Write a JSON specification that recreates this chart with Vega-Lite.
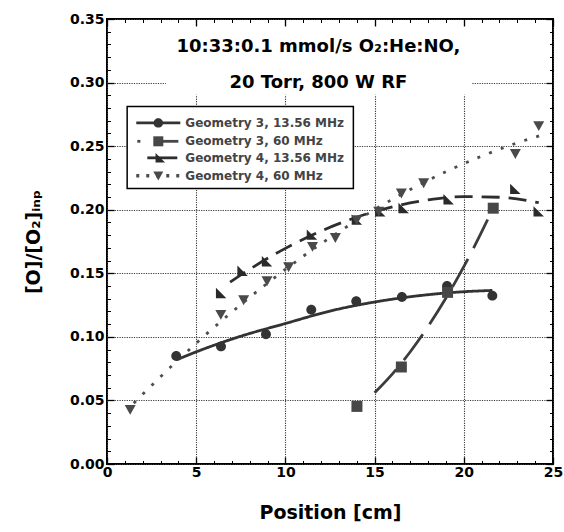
{
  "$schema": "https://vega.github.io/schema/vega-lite/v6.json",
  "width": 446,
  "height": 445,
  "autosize": {"type": "none"},
  "padding": {"left": 107, "top": 19, "right": 11, "bottom": 68},
  "background": "white",
  "config": {
    "view": {"stroke": "black", "strokeWidth": 2},
    "font": "DejaVu Sans",
    "axis": {
      "labelFont": "DejaVu Sans", "labelFontWeight": "bold", "labelFontSize": 14, "labelColor": "black",
      "titleFont": "DejaVu Sans", "titleFontWeight": "bold", "titleFontSize": 19, "titleColor": "black",
      "domain": false, "tickColor": "black", "tickWidth": 1.3,
      "gridColor": "#3a3a3a", "gridDash": [1.2, 1.2], "gridWidth": 1.1
    },
    "text": {"font": "DejaVu Sans", "fontWeight": "bold", "fontSize": 12, "color": "#444444", "align": "left", "baseline": "middle"}
  },
  "datasets": {
    "pts": [
      {"series": "Geometry 3, 13.56 MHz", "position": 3.88, "ratio": 0.085},
      {"series": "Geometry 3, 13.56 MHz", "position": 6.39, "ratio": 0.0925},
      {"series": "Geometry 3, 13.56 MHz", "position": 8.91, "ratio": 0.102},
      {"series": "Geometry 3, 13.56 MHz", "position": 11.45, "ratio": 0.1214},
      {"series": "Geometry 3, 13.56 MHz", "position": 13.97, "ratio": 0.128},
      {"series": "Geometry 3, 13.56 MHz", "position": 16.53, "ratio": 0.1314},
      {"series": "Geometry 3, 13.56 MHz", "position": 19.06, "ratio": 0.140},
      {"series": "Geometry 3, 13.56 MHz", "position": 21.6, "ratio": 0.1324},
      {"series": "Geometry 3, 60 MHz", "position": 14.01, "ratio": 0.0453},
      {"series": "Geometry 3, 60 MHz", "position": 16.5, "ratio": 0.0763},
      {"series": "Geometry 3, 60 MHz", "position": 19.09, "ratio": 0.135},
      {"series": "Geometry 3, 60 MHz", "position": 21.65, "ratio": 0.2012},
      {"series": "Geometry 4, 13.56 MHz", "position": 6.4, "ratio": 0.1345},
      {"series": "Geometry 4, 13.56 MHz", "position": 7.6, "ratio": 0.152},
      {"series": "Geometry 4, 13.56 MHz", "position": 8.97, "ratio": 0.1594},
      {"series": "Geometry 4, 13.56 MHz", "position": 11.49, "ratio": 0.1804},
      {"series": "Geometry 4, 13.56 MHz", "position": 14.01, "ratio": 0.1922},
      {"series": "Geometry 4, 13.56 MHz", "position": 15.32, "ratio": 0.1987},
      {"series": "Geometry 4, 13.56 MHz", "position": 16.63, "ratio": 0.2014},
      {"series": "Geometry 4, 13.56 MHz", "position": 19.15, "ratio": 0.2083},
      {"series": "Geometry 4, 13.56 MHz", "position": 22.89, "ratio": 0.2164},
      {"series": "Geometry 4, 13.56 MHz", "position": 24.2, "ratio": 0.1987},
      {"series": "Geometry 4, 60 MHz", "position": 1.3, "ratio": 0.0428},
      {"series": "Geometry 4, 60 MHz", "position": 6.38, "ratio": 0.1175},
      {"series": "Geometry 4, 60 MHz", "position": 7.66, "ratio": 0.129},
      {"series": "Geometry 4, 60 MHz", "position": 8.97, "ratio": 0.144},
      {"series": "Geometry 4, 60 MHz", "position": 10.18, "ratio": 0.155},
      {"series": "Geometry 4, 60 MHz", "position": 11.52, "ratio": 0.171},
      {"series": "Geometry 4, 60 MHz", "position": 12.8, "ratio": 0.178},
      {"series": "Geometry 4, 60 MHz", "position": 14.0, "ratio": 0.192},
      {"series": "Geometry 4, 60 MHz", "position": 15.23, "ratio": 0.1987},
      {"series": "Geometry 4, 60 MHz", "position": 16.5, "ratio": 0.213},
      {"series": "Geometry 4, 60 MHz", "position": 17.75, "ratio": 0.221},
      {"series": "Geometry 4, 60 MHz", "position": 22.89, "ratio": 0.244},
      {"series": "Geometry 4, 60 MHz", "position": 24.2, "ratio": 0.266}
    ],
    "fits": [
      {"series": "Geometry 3, 13.56 MHz", "position": 3.9, "ratio": 0.082},
      {"series": "Geometry 3, 13.56 MHz", "position": 5, "ratio": 0.0882},
      {"series": "Geometry 3, 13.56 MHz", "position": 7.5, "ratio": 0.1005},
      {"series": "Geometry 3, 13.56 MHz", "position": 10, "ratio": 0.1105},
      {"series": "Geometry 3, 13.56 MHz", "position": 12.5, "ratio": 0.1203},
      {"series": "Geometry 3, 13.56 MHz", "position": 15, "ratio": 0.1274},
      {"series": "Geometry 3, 13.56 MHz", "position": 17.5, "ratio": 0.1324},
      {"series": "Geometry 3, 13.56 MHz", "position": 20, "ratio": 0.1355},
      {"series": "Geometry 3, 13.56 MHz", "position": 21.6, "ratio": 0.1365},
      {"series": "Geometry 3, 60 MHz", "position": 15, "ratio": 0.056},
      {"series": "Geometry 3, 60 MHz", "position": 16, "ratio": 0.0709},
      {"series": "Geometry 3, 60 MHz", "position": 17, "ratio": 0.0883},
      {"series": "Geometry 3, 60 MHz", "position": 18, "ratio": 0.1082},
      {"series": "Geometry 3, 60 MHz", "position": 19, "ratio": 0.1305},
      {"series": "Geometry 3, 60 MHz", "position": 20, "ratio": 0.1552},
      {"series": "Geometry 3, 60 MHz", "position": 21, "ratio": 0.1825},
      {"series": "Geometry 3, 60 MHz", "position": 21.6, "ratio": 0.2},
      {"series": "Geometry 4, 13.56 MHz", "position": 6.9, "ratio": 0.143},
      {"series": "Geometry 4, 13.56 MHz", "position": 8, "ratio": 0.1532},
      {"series": "Geometry 4, 13.56 MHz", "position": 10, "ratio": 0.1696},
      {"series": "Geometry 4, 13.56 MHz", "position": 12, "ratio": 0.1832},
      {"series": "Geometry 4, 13.56 MHz", "position": 14, "ratio": 0.1941},
      {"series": "Geometry 4, 13.56 MHz", "position": 16, "ratio": 0.2023},
      {"series": "Geometry 4, 13.56 MHz", "position": 18, "ratio": 0.2077},
      {"series": "Geometry 4, 13.56 MHz", "position": 20, "ratio": 0.2103},
      {"series": "Geometry 4, 13.56 MHz", "position": 22, "ratio": 0.2098},
      {"series": "Geometry 4, 13.56 MHz", "position": 24.2, "ratio": 0.2055},
      {"series": "Geometry 4, 60 MHz", "position": 1.5, "ratio": 0.0478},
      {"series": "Geometry 4, 60 MHz", "position": 3, "ratio": 0.0686},
      {"series": "Geometry 4, 60 MHz", "position": 5, "ratio": 0.095},
      {"series": "Geometry 4, 60 MHz", "position": 7, "ratio": 0.1195},
      {"series": "Geometry 4, 60 MHz", "position": 9, "ratio": 0.1423},
      {"series": "Geometry 4, 60 MHz", "position": 11, "ratio": 0.1634},
      {"series": "Geometry 4, 60 MHz", "position": 13, "ratio": 0.1826},
      {"series": "Geometry 4, 60 MHz", "position": 15, "ratio": 0.2001},
      {"series": "Geometry 4, 60 MHz", "position": 17, "ratio": 0.2159},
      {"series": "Geometry 4, 60 MHz", "position": 19, "ratio": 0.2299},
      {"series": "Geometry 4, 60 MHz", "position": 21, "ratio": 0.2421},
      {"series": "Geometry 4, 60 MHz", "position": 23, "ratio": 0.2526},
      {"series": "Geometry 4, 60 MHz", "position": 24.4, "ratio": 0.2588}
    ]
  },
  "layer": [
    {
      "data": {"name": "fits"},
      "mark": {"type": "line", "interpolate": "monotone", "strokeCap": "butt"},
      "encoding": {
        "x": {"field": "position", "type": "quantitative", "scale": {"domain": [0, 25], "nice": false, "zero": false},
              "axis": {"orient": "bottom", "values": [0, 5, 10, 15, 20, 25], "grid": true, "tickSize": -7, "labelPadding": 8, "labelFlush": false, "title": "Position [cm]", "titlePadding": 24}},
        "y": {"field": "ratio", "type": "quantitative", "scale": {"domain": [0, 0.35], "nice": false, "zero": false},
              "axis": {"orient": "left", "values": [0, 0.05, 0.1, 0.15, 0.2, 0.25, 0.3, 0.35], "format": ".2f", "grid": true, "tickSize": -7, "labelPadding": 10, "title": "[O]/[O₂]ᵢₙₚ", "titlePadding": 26}},
        "stroke": {"field": "series", "type": "nominal", "legend": null,
                   "scale": {"domain": ["Geometry 3, 13.56 MHz", "Geometry 3, 60 MHz", "Geometry 4, 13.56 MHz", "Geometry 4, 60 MHz"], "range": ["#333333", "#3c3c3c", "#2e2e2e", "#4d4d4d"]}},
        "strokeWidth": {"field": "series", "type": "nominal", "legend": null,
                   "scale": {"domain": ["Geometry 3, 13.56 MHz", "Geometry 3, 60 MHz", "Geometry 4, 13.56 MHz", "Geometry 4, 60 MHz"], "range": [2.8, 2.8, 2.8, 3.6]}},
        "strokeDash": {"field": "series", "type": "nominal", "legend": null,
                       "scale": {"domain": ["Geometry 3, 13.56 MHz", "Geometry 3, 60 MHz", "Geometry 4, 13.56 MHz", "Geometry 4, 60 MHz"], "range": [[1, 0], [32, 12], [18, 9], [3, 9.5]]}}
      }
    },
    {
      "data": {"name": "pts"},
      "transform": [{"filter": "datum.series === 'Geometry 3, 13.56 MHz'"}],
      "mark": {"type": "point", "filled": true, "opacity": 1, "size": 121, "strokeWidth": 0, "color": "#333333", "shape": "M-0.9,0A0.9,0.9,0,1,1,0.9,0A0.9,0.9,0,1,1,-0.9,0Z"},
      "encoding": {
        "x": {"field": "position", "type": "quantitative", "scale": {"domain": [0, 25], "nice": false, "zero": false},
              "axis": {"orient": "top", "values": [0, 5, 10, 15, 20, 25], "grid": false, "labels": false, "tickSize": -7, "title": null}},
        "y": {"field": "ratio", "type": "quantitative", "scale": {"domain": [0, 0.35], "nice": false, "zero": false},
              "axis": {"orient": "right", "values": [0, 0.05, 0.1, 0.15, 0.2, 0.25, 0.3, 0.35], "grid": false, "labels": false, "tickSize": -7, "title": null}}
      }
    },
    {
      "data": {"name": "pts"},
      "transform": [{"filter": "datum.series === 'Geometry 3, 60 MHz'"}],
      "mark": {"type": "point", "filled": true, "opacity": 1, "size": 121, "strokeWidth": 0, "color": "#474747", "shape": "M-1,-1H1V1H-1Z"},
      "encoding": {
        "x": {"field": "position", "type": "quantitative", "axis": null},
        "y": {"field": "ratio", "type": "quantitative", "axis": null}
      }
    },
    {
      "data": {"name": "pts"},
      "transform": [{"filter": "datum.series === 'Geometry 4, 13.56 MHz'"}],
      "mark": {"type": "point", "filled": true, "opacity": 1, "size": 121, "strokeWidth": 0, "color": "#2a2a2a", "shape": "M-0.95,-0.95L-0.95,0.95L0.95,0.95Z"},
      "encoding": {
        "x": {"field": "position", "type": "quantitative", "axis": null},
        "y": {"field": "ratio", "type": "quantitative", "axis": null}
      }
    },
    {
      "data": {"name": "pts"},
      "transform": [{"filter": "datum.series === 'Geometry 4, 60 MHz'"}],
      "mark": {"type": "point", "filled": true, "opacity": 1, "size": 121, "strokeWidth": 0, "color": "#4a4a4a", "shape": "M-1,-0.85H1L0,0.95Z"},
      "encoding": {
        "x": {"field": "position", "type": "quantitative", "axis": null},
        "y": {"field": "ratio", "type": "quantitative", "axis": null}
      }
    },
    {
      "data": {"values": [{}]},
      "mark": {"type": "rect", "fill": "white", "stroke": null},
      "encoding": {
        "x": {"datum": 3.3, "type": "quantitative", "scale": {"domain": [0, 25], "nice": false, "zero": false},
              "axis": {"orient": "bottom", "values": [1, 2, 3, 4, 6, 7, 8, 9, 11, 12, 13, 14, 16, 17, 18, 19, 21, 22, 23, 24], "grid": false, "labels": false, "tickSize": -3.5, "tickWidth": 1, "title": null}},
        "x2": {"datum": 20.45},
        "y": {"datum": 0.344, "type": "quantitative", "scale": {"domain": [0, 0.35], "nice": false, "zero": false},
              "axis": {"orient": "left", "values": [0.01, 0.02, 0.03, 0.04, 0.06, 0.07, 0.08, 0.09, 0.11, 0.12, 0.13, 0.14, 0.16, 0.17, 0.18, 0.19, 0.21, 0.22, 0.23, 0.24, 0.26, 0.27, 0.28, 0.29, 0.31, 0.32, 0.33, 0.34], "grid": false, "labels": false, "tickSize": -3.5, "tickWidth": 1, "title": null}},
        "y2": {"datum": 0.2905}
      }
    },
    {
      "data": {"values": [{}]},
      "mark": {"type": "text", "text": ["10:33:0.1 mmol/s O₂:He:NO,", "20 Torr, 800 W RF"], "font": "DejaVu Sans", "fontWeight": "bold", "fontSize": 18, "align": "center", "baseline": "alphabetic", "lineHeight": 36, "color": "black"},
      "encoding": {
        "x": {"datum": 11.85, "type": "quantitative", "scale": {"domain": [0, 25], "nice": false, "zero": false},
              "axis": {"orient": "top", "values": [1, 2, 3, 4, 6, 7, 8, 9, 11, 12, 13, 14, 16, 17, 18, 19, 21, 22, 23, 24], "grid": false, "labels": false, "tickSize": -3.5, "tickWidth": 1, "title": null}},
        "y": {"datum": 0.3244, "type": "quantitative", "scale": {"domain": [0, 0.35], "nice": false, "zero": false},
              "axis": {"orient": "right", "values": [0.01, 0.02, 0.03, 0.04, 0.06, 0.07, 0.08, 0.09, 0.11, 0.12, 0.13, 0.14, 0.16, 0.17, 0.18, 0.19, 0.21, 0.22, 0.23, 0.24, 0.26, 0.27, 0.28, 0.29, 0.31, 0.32, 0.33, 0.34], "grid": false, "labels": false, "tickSize": -3.5, "tickWidth": 1, "title": null}}
      }
    },
    {
      "data": {"values": [{}]},
      "mark": {"type": "rect", "fill": "white", "stroke": "black", "strokeWidth": 1.5},
      "encoding": {
        "x": {"datum": 1.13, "type": "quantitative", "axis": null}, "x2": {"datum": 13.81},
        "y": {"datum": 0.2811, "type": "quantitative", "axis": null}, "y2": {"datum": 0.2166}
      }
    },
    {
      "data": {"values": [{}]},
      "mark": {"type": "rule", "stroke": "#333333", "strokeWidth": 2.8},
      "encoding": {"x": {"datum": 1.64, "type": "quantitative", "axis": null}, "x2": {"datum": 4.11}, "y": {"datum": 0.2683, "type": "quantitative", "axis": null}}
    },
    {
      "data": {"values": [{}]},
      "mark": {"type": "rule", "stroke": "#474747", "strokeWidth": 2.8},
      "encoding": {"x": {"datum": 1.7, "type": "quantitative", "axis": null}, "x2": {"datum": 1.87}, "y": {"datum": 0.2538, "type": "quantitative", "axis": null}}
    },
    {
      "data": {"values": [{}]},
      "mark": {"type": "rule", "stroke": "#474747", "strokeWidth": 2.8},
      "encoding": {"x": {"datum": 2.88, "type": "quantitative", "axis": null}, "x2": {"datum": 4.0}, "y": {"datum": 0.2538, "type": "quantitative", "axis": null}}
    },
    {
      "data": {"values": [{}]},
      "mark": {"type": "rule", "stroke": "#2e2e2e", "strokeWidth": 2.8},
      "encoding": {"x": {"datum": 2.26, "type": "quantitative", "axis": null}, "x2": {"datum": 3.94}, "y": {"datum": 0.2408, "type": "quantitative", "axis": null}}
    },
    {
      "data": {"values": [{}]},
      "mark": {"type": "rule", "stroke": "#4d4d4d", "strokeWidth": 3.5, "strokeDash": [3, 7], "strokeCap": "butt"},
      "encoding": {"x": {"datum": 1.64, "type": "quantitative", "axis": null}, "x2": {"datum": 4.11}, "y": {"datum": 0.2268, "type": "quantitative", "axis": null}}
    },
    {
      "data": {"values": [{}]},
      "mark": {"type": "point", "filled": true, "opacity": 1, "size": 110, "strokeWidth": 0, "color": "#333333", "shape": "M-0.9,0A0.9,0.9,0,1,1,0.9,0A0.9,0.9,0,1,1,-0.9,0Z"},
      "encoding": {"x": {"datum": 2.876, "type": "quantitative", "axis": null}, "y": {"datum": 0.2683, "type": "quantitative", "axis": null}}
    },
    {
      "data": {"values": [{}]},
      "mark": {"type": "point", "filled": true, "opacity": 1, "size": 100, "strokeWidth": 0, "color": "#474747", "shape": "M-1,-1H1V1H-1Z"},
      "encoding": {"x": {"datum": 2.876, "type": "quantitative", "axis": null}, "y": {"datum": 0.2538, "type": "quantitative", "axis": null}}
    },
    {
      "data": {"values": [{}]},
      "mark": {"type": "point", "filled": true, "opacity": 1, "size": 100, "strokeWidth": 0, "color": "#2a2a2a", "shape": "M-0.95,-0.95L-0.95,0.95L0.95,0.95Z"},
      "encoding": {"x": {"datum": 2.99, "type": "quantitative", "axis": null}, "y": {"datum": 0.2408, "type": "quantitative", "axis": null}}
    },
    {
      "data": {"values": [{}]},
      "mark": {"type": "point", "filled": true, "opacity": 1, "size": 100, "strokeWidth": 0, "color": "#4a4a4a", "shape": "M-1,-0.85H1L0,0.95Z"},
      "encoding": {"x": {"datum": 2.876, "type": "quantitative", "axis": null}, "y": {"datum": 0.2268, "type": "quantitative", "axis": null}}
    },
    {
      "data": {"values": [{}]},
      "mark": {"type": "text", "text": "Geometry 3, 13.56 MHz"},
      "encoding": {"x": {"datum": 4.39, "type": "quantitative", "axis": null}, "y": {"datum": 0.2683, "type": "quantitative", "axis": null}}
    },
    {
      "data": {"values": [{}]},
      "mark": {"type": "text", "text": "Geometry 3, 60 MHz"},
      "encoding": {"x": {"datum": 4.39, "type": "quantitative", "axis": null}, "y": {"datum": 0.2538, "type": "quantitative", "axis": null}}
    },
    {
      "data": {"values": [{}]},
      "mark": {"type": "text", "text": "Geometry 4, 13.56 MHz"},
      "encoding": {"x": {"datum": 4.39, "type": "quantitative", "axis": null}, "y": {"datum": 0.2408, "type": "quantitative", "axis": null}}
    },
    {
      "data": {"values": [{}]},
      "mark": {"type": "text", "text": "Geometry 4, 60 MHz"},
      "encoding": {"x": {"datum": 4.39, "type": "quantitative", "axis": null}, "y": {"datum": 0.2268, "type": "quantitative", "axis": null}}
    }
  ],
  "resolve": {"axis": {"x": "independent", "y": "independent"}}
}
